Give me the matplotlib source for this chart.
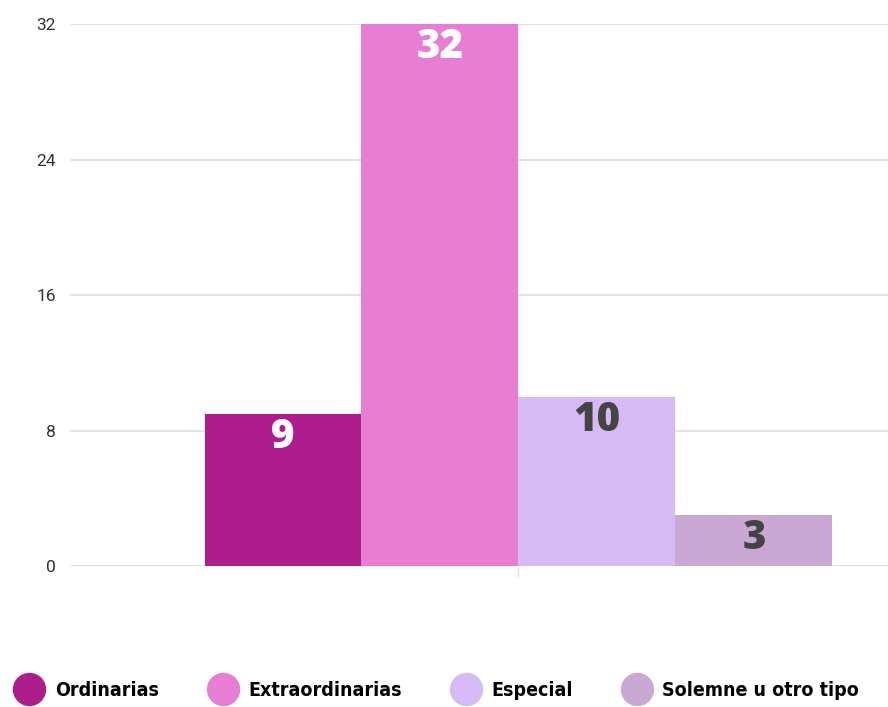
import matplotlib
matplotlib.use("Agg")
import matplotlib.pyplot as plt
from matplotlib.lines import Line2D
from matplotlib.font_manager import FontProperties

# datos del grafico
categorias = ["Ordinarias", "Extraordinarias", "Especial", "Solemne u otro tipo"]
valores = [9, 32, 10, 3]
colores = ["#AD1E8C", "#E87DD4", "#D5BAF5", "#C9A9D3"]
color_etiqueta = ["white", "white", "#444444", "#444444"]
yticks = [0, 8, 16, 24, 32]

fig = plt.figure(figsize=(8.88, 7.07), dpi=100)
ax = fig.add_axes([0.0788, 0.1994, 0.9212, 0.7666])

x = list(range(len(valores)))
bars = ax.bar(x, valores, width=1.0, color=colores, zorder=2)

# etiquetas dentro de la barra, arriba
for xi, v, c in zip(x, valores, color_etiqueta):
    ax.annotate(str(v), xy=(xi, v), xytext=(0, -17), textcoords="offset points",
                ha="center", va="center", color=c, fontsize=29,
                family="Open Sans", fontweight=800, zorder=3)

ax.set_ylim(0, 32)
ax.set_xlim(-1.357, 3.854)
ax.set_yticks(yticks)
ax.set_yticklabels([str(t) for t in yticks], family="Roboto", fontsize=12.5, color="#333333")
ax.set_xticks([1.5])
ax.set_xticklabels([""])
ax.tick_params(axis="y", length=0, pad=10)
ax.tick_params(axis="x", length=8, color="#e3e3e3", width=1)
ax.grid(axis="y", color="#e3e3e3", linewidth=1.4, zorder=0)
ax.set_axisbelow(True)
for s in ax.spines.values():
    s.set_visible(False)

# leyenda
handles = [Line2D([], [], marker="o", linestyle="", markersize=23,
                  markerfacecolor=c, markeredgecolor=c) for c in colores]
fp = FontProperties(family="DejaVu Sans", weight="bold", stretch="condensed", size=14)
fig.legend(handles, categorias, loc="center", bbox_to_anchor=(0.491, 0.024),
           ncol=4, frameon=False, prop=fp, handletextpad=0.45, columnspacing=2.45,
           handlelength=1.7, borderpad=0, borderaxespad=0)

fig.savefig("out.png", dpi=100)
